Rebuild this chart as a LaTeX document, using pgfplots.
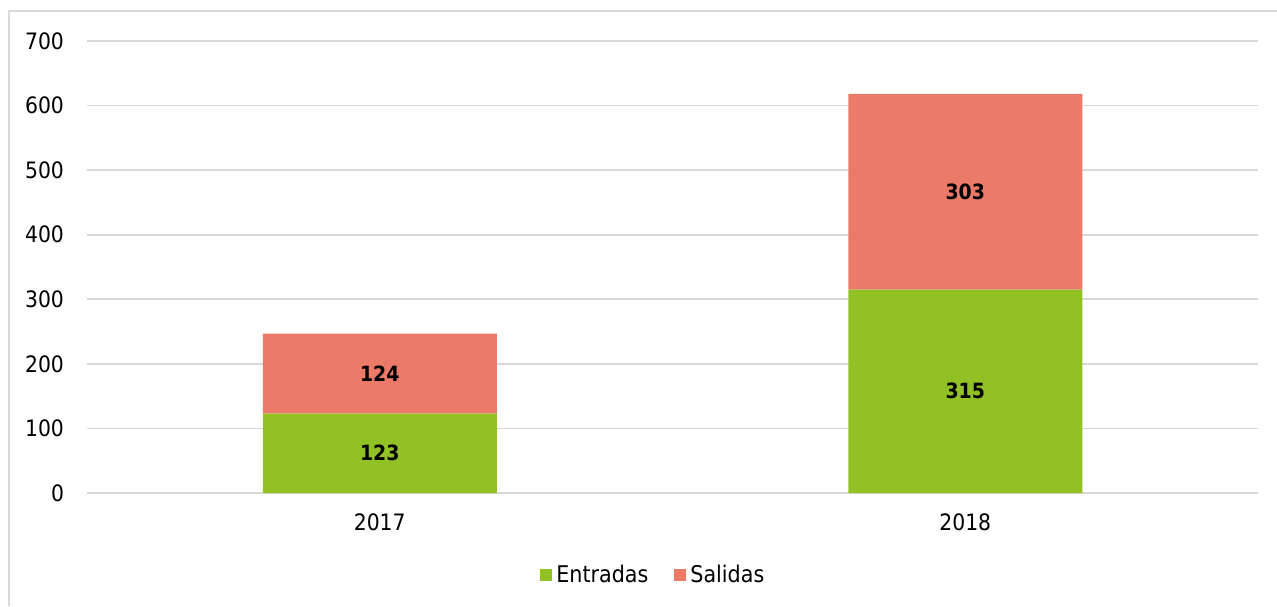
\documentclass[border=0pt]{standalone}
\usepackage{pgfplots}
\pgfplotsset{compat=1.18}
\usepackage{pgfplotstable}
\usepackage{fontspec}
\setmainfont{DejaVu Sans Condensed}
\definecolor{ent}{HTML}{92C126}
\definecolor{sal}{HTML}{EC7A69}
\definecolor{gridc}{HTML}{D9D9D9}
\pgfplotstableread{
x y
0 123
1 315
}\entradas
\pgfplotstableread{
x y
0 124
1 303
}\salidas
\begin{document}
\begin{tikzpicture}
\useasboundingbox (0,0) rectangle (638.5pt,303pt);
\draw[gridc, line width=1pt] (4.5pt,0) -- (4.5pt,297.5pt) -- (638.5pt,297.5pt);
\begin{axis}[
  at={(43.5pt,56.5pt)}, anchor=south west,
  scale only axis, width=585.5pt, height=226pt,
  ybar stacked, bar width=117pt,
  xmin=-0.5, xmax=1.5, ymin=0, ymax=700,
  xtick={0,1}, xticklabels={2017,2018},
  ytick={0,100,...,700},
  ymajorgrids, grid style={gridc, line width=0.9pt},
  axis line style={draw=none},
  major tick length=0pt,
  tick label style={font=\fontsize{11.3}{14}\selectfont},
  /pgf/number format/assume math mode=true,
  yticklabel style={xshift=-8pt},
  xticklabel style={yshift=-7pt},
  legend style={at={(0.4845,-0.1814)}, anchor=center, draw=none, legend columns=2,
    font=\fontsize{11.5}{13}\selectfont, /tikz/every even column/.append style={column sep=11pt}},
  legend image code/.code={\fill[#1] (-0.5pt,-3pt) rectangle (5.5pt,3pt);},
  nodes near coords,
  point meta=explicit,
  every node near coord/.append style={font=\bfseries\fontsize{10.5}{12}\selectfont, black, anchor=center},
]
\addplot[fill=ent, draw=none] table[x=x, y=y, meta=y] {\entradas};
\addlegendentry{Entradas}
\addplot[fill=sal, draw=none] table[x=x, y=y, meta=y] {\salidas};
\addlegendentry{Salidas}
\end{axis}
\end{tikzpicture}
\end{document}
